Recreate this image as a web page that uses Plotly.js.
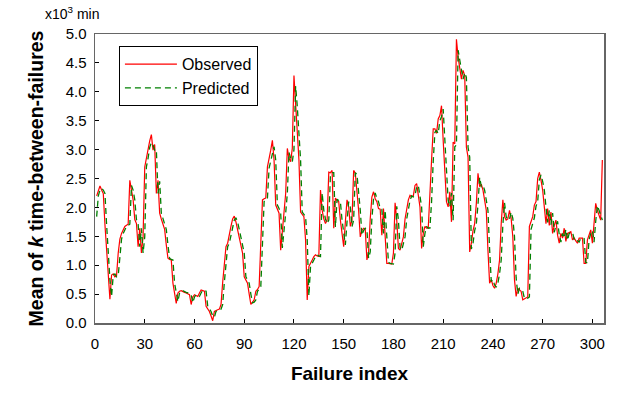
<!DOCTYPE html>
<html>
<head>
<meta charset="utf-8">
<script src="https://cdn.plot.ly/plotly-3.0.1.min.js"></script>
<style>html,body{margin:0;padding:0;background:#fff;}#chart{width:626px;height:394px;}</style>
</head>
<body>
<div id="chart"></div>
<script>
// Failure index values 1..306
const failureIndex = Array.from({length: 306}, (_, k) => k + 1);

const observed = [
2.20,2.30,2.37,2.30,2.24,1.70,1.21,0.75,0.41,0.83,
0.85,0.80,0.82,1.21,1.45,1.55,1.60,1.67,1.69,1.71,
2.47,2.30,2.13,1.79,1.72,1.32,1.64,1.21,1.49,2.70,
2.85,3.04,3.15,3.26,2.99,3.09,2.24,2.47,1.90,1.80,
1.70,1.62,1.35,1.12,1.10,1.09,0.69,0.50,0.34,0.52,
0.55,0.56,0.54,0.53,0.52,0.50,0.49,0.32,0.45,0.49,
0.47,0.46,0.52,0.57,0.56,0.55,0.29,0.25,0.20,0.12,
0.04,0.20,0.22,0.23,0.24,0.32,0.70,1.10,1.32,1.38,
1.50,1.67,1.80,1.85,1.75,1.62,1.49,1.35,1.21,0.80,
0.75,0.69,0.50,0.32,0.36,0.40,0.55,0.58,0.63,1.32,
2.13,2.15,2.16,2.70,2.82,2.99,3.16,2.82,2.04,1.98,
1.90,1.26,1.55,1.90,2.24,3.02,2.85,2.79,3.02,4.28,
3.79,3.30,2.82,1.92,1.88,1.84,1.44,0.40,0.98,1.05,
1.09,1.15,1.18,1.16,1.15,2.30,1.95,1.80,1.72,1.78,
2.61,2.60,2.64,1.64,2.16,2.12,2.10,1.78,1.52,1.32,
1.75,2.13,2.01,1.67,1.78,2.64,2.59,2.30,1.95,1.49,
1.60,1.64,1.62,1.09,1.23,1.80,2.18,2.27,2.15,2.10,
1.98,1.97,1.52,1.98,1.55,1.03,1.03,1.02,1.02,1.21,
2.08,1.78,1.29,1.26,1.38,1.49,1.80,1.95,2.13,2.21,
2.18,2.20,2.38,2.41,2.20,2.01,1.29,1.55,1.67,1.64,
1.64,2.13,2.82,3.36,3.36,3.28,3.53,3.59,3.76,3.16,
2.70,2.10,2.01,2.27,1.75,3.13,3.10,4.91,4.60,4.40,
4.22,4.37,4.28,3.04,2.87,1.23,1.38,1.60,1.72,2.07,
2.59,2.36,2.40,2.30,2.10,1.95,1.26,0.69,0.75,0.65,
0.60,0.69,0.85,1.09,1.72,2.13,1.84,1.78,1.80,1.95,
1.81,1.49,0.75,0.46,0.60,0.58,0.55,0.40,0.42,0.43,
0.45,1.67,1.75,1.84,2.04,2.10,2.50,2.61,2.47,2.30,
2.01,1.72,1.98,1.69,1.92,1.55,1.69,1.78,1.52,1.38,
1.55,1.47,1.64,1.41,1.55,1.56,1.58,1.44,1.47,1.42,
1.38,1.47,1.47,1.47,1.03,1.03,1.44,1.55,1.61,1.38,
1.78,2.07,1.95,1.87,1.78,2.82
];

const predicted = [
1.84,2.20,2.30,2.33,2.30,2.24,1.70,1.21,0.75,0.46,
0.83,0.85,0.80,0.82,1.21,1.45,1.55,1.60,1.67,1.69,
1.71,2.38,2.30,2.13,1.79,1.72,1.32,1.64,1.21,1.49,
2.70,2.85,3.04,3.12,3.08,2.99,3.00,2.24,2.45,1.90,
1.80,1.70,1.62,1.35,1.12,1.10,1.09,0.69,0.50,0.37,
0.52,0.55,0.56,0.54,0.53,0.52,0.50,0.49,0.35,0.45,
0.49,0.47,0.46,0.52,0.57,0.56,0.55,0.29,0.25,0.20,
0.12,0.10,0.20,0.22,0.23,0.24,0.32,0.70,1.10,1.32,
1.38,1.50,1.67,1.78,1.82,1.75,1.62,1.49,1.35,1.21,
0.80,0.75,0.69,0.50,0.35,0.36,0.40,0.55,0.58,0.63,
1.32,2.10,2.15,2.16,2.68,2.80,2.97,3.05,2.82,2.04,
1.98,1.90,1.30,1.55,1.90,2.24,2.95,2.85,2.79,3.00,
4.10,3.75,3.30,2.82,1.92,1.88,1.84,1.44,0.47,0.98,
1.05,1.09,1.15,1.18,1.16,1.15,2.25,1.95,1.80,1.72,
1.78,2.55,2.60,2.60,1.66,2.14,2.12,2.10,1.78,1.52,
1.35,1.75,2.10,2.01,1.67,1.78,2.60,2.57,2.30,1.95,
1.52,1.60,1.64,1.62,1.12,1.23,1.80,2.15,2.25,2.15,
2.10,1.98,1.97,1.55,1.95,1.55,1.05,1.03,1.02,1.02,
1.21,2.02,1.78,1.30,1.26,1.38,1.49,1.80,1.95,2.12,
2.20,2.18,2.20,2.36,2.38,2.20,2.01,1.32,1.55,1.67,
1.64,1.64,2.10,2.80,3.30,3.33,3.28,3.50,3.57,3.70,
3.16,2.70,2.12,2.01,2.25,1.78,3.05,3.08,4.72,4.55,
4.38,4.22,4.33,4.25,3.04,2.87,1.28,1.38,1.60,1.72,
2.05,2.52,2.36,2.38,2.30,2.10,1.95,1.28,0.72,0.75,
0.66,0.62,0.69,0.85,1.09,1.70,2.08,1.84,1.78,1.80,
1.92,1.81,1.50,0.78,0.50,0.60,0.58,0.55,0.43,0.42,
0.43,0.45,1.62,1.75,1.82,2.02,2.10,2.48,2.56,2.45,
2.30,2.01,1.74,1.95,1.70,1.90,1.57,1.69,1.76,1.53,
1.40,1.55,1.47,1.62,1.43,1.55,1.56,1.57,1.45,1.47,
1.42,1.40,1.47,1.47,1.46,1.05,1.04,1.44,1.55,1.60,
1.40,1.76,2.03,1.95,1.87,1.78
];

const xTicks = [0, 30, 60, 90, 120, 150, 180, 210, 240, 270, 300];
const yTicks = [0, 0.5, 1.0, 1.5, 2.0, 2.5, 3.0, 3.5, 4.0, 4.5, 5.0];

const font = 'Arial, "Liberation Sans", sans-serif';

const traces = [
  {
    x: failureIndex, y: observed, name: 'Observed', type: 'scatter', mode: 'lines',
    line: {color: '#ff0000', width: 1.2}
  },
  {
    x: failureIndex, y: predicted, name: 'Predicted', type: 'scatter', mode: 'lines',
    line: {color: '#008000', width: 1.3, dash: '6px,4px'}
  }
];

const layout = {
  width: 626, height: 394,
  margin: {l: 95, r: 22, t: 34, b: 71, pad: 0},
  paper_bgcolor: '#ffffff', plot_bgcolor: '#ffffff',
  font: {family: font, size: 15, color: '#000'},
  showlegend: true,
  legend: {
    x: 0.047, y: 0.958, xanchor: 'left', yanchor: 'top',
    bgcolor: '#ffffff', bordercolor: '#000000', borderwidth: 1,
    font: {family: font, size: 16, color: '#000'},
    tracegroupgap: 0, itemwidth: 52
  },
  xaxis: {
    range: [0, 307], tickvals: xTicks, ticktext: xTicks.map(String),
    ticks: 'inside', ticklen: 4, tickcolor: '#000', tickwidth: 1,
    showline: true, linecolor: '#666', linewidth: 1.5, mirror: true,
    showgrid: false, zeroline: false, ticklabelstandoff: 6,
    tickfont: {family: font, size: 15, color: '#000'},
    title: {text: '<b>Failure index</b>', font: {family: font, size: 19, color: '#000'}, standoff: 16}
  },
  yaxis: {
    range: [0, 5.0], tickvals: yTicks, ticktext: yTicks.map(v => v.toFixed(1)),
    ticks: 'inside', ticklen: 4, tickcolor: '#000', tickwidth: 1,
    showline: true, linecolor: '#666', linewidth: 1.5, mirror: true,
    showgrid: false, zeroline: false, ticklabelstandoff: 4,
    tickfont: {family: font, size: 15, color: '#000'},
    title: {text: '<b>Mean of <i>k</i> time-between-failures</b>', font: {family: font, size: 19.5, color: '#000'}, standoff: 17}
  },
  annotations: [
    {
      xref: 'paper', yref: 'paper', x: -0.102, y: 1.0, xanchor: 'left', yanchor: 'bottom',
      yshift: 10,
      text: 'x10<sup>3</sup> min', showarrow: false,
      font: {family: font, size: 14, color: '#000'}
    }
  ]
};

Plotly.newPlot('chart', traces, layout, {displayModeBar: false, staticPlot: true});
</script>
</body>
</html>
